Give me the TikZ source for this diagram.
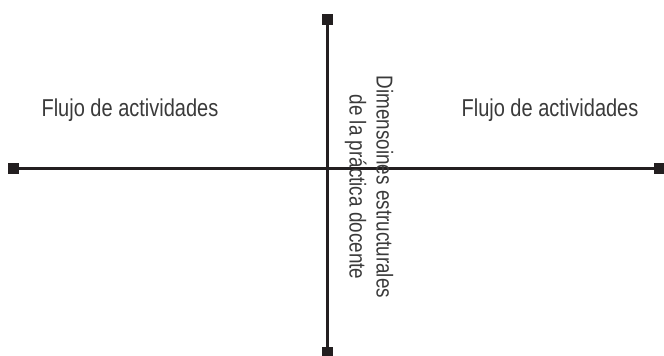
\documentclass[tikz,border=0pt]{standalone}
\usepackage{fontspec}
\setmainfont[FakeStretch=0.82]{Liberation Sans}
\begin{document}
\begin{tikzpicture}[x=1pt,y=-1pt,
  axis/.style={draw=linec,line width=2.5pt},
  endsq/.style={fill=linec,minimum size=11pt,inner sep=0pt,outer sep=0pt},
  lbl/.style={text=txtc,font=\fontsize{24.4}{28}\selectfont,inner sep=0pt},
  vlbl/.style={text=txtc,font=\fontsize{23}{27}\selectfont,inner sep=0pt,align=center,rotate=-90}]
\definecolor{linec}{HTML}{231F20}
\definecolor{txtc}{HTML}{3A3A3A}
\useasboundingbox (0,0) rectangle (664,356);
\coordinate (L) at (13.5,168.5);
\coordinate (R) at (659,168.5);
\coordinate (T) at (327.5,19.5);
\coordinate (B) at (327.5,352);
\draw[axis] (L) -- (R);
\draw[axis] (T) -- (B);
\node[endsq] (sl) at (L) {};
\node[endsq] (sr) at (R) {};
\node[endsq] (st) at (T) {};
\node[endsq] (sb) at (B) {};
\node[lbl] (fl) at (130,110) {Flujo de actividades};
\node[lbl] (fr) at (550,110) {Flujo de actividades};
\node[vlbl] (dim) at (369,187) {Dimensoines estructurales\\de la práctica docente};
\end{tikzpicture}
\end{document}
